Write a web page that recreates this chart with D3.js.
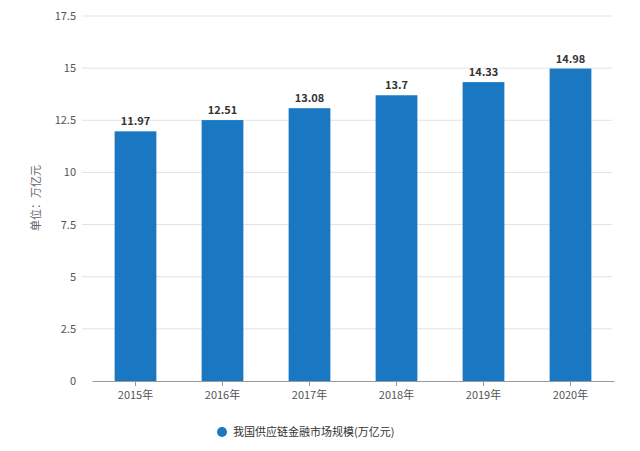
<!DOCTYPE html>
<html><head><meta charset="utf-8">
<script src="https://cdn.jsdelivr.net/npm/d3@7"></script>
<style>body{margin:0;background:#fff}text{font-family:"Noto Sans CJK SC","Open Sans",sans-serif}</style>
</head><body>
<script>
var years = ['2015年', '2016年', '2017年', '2018年', '2019年', '2020年'];
var values = [11.97, 12.51, 13.08, 13.7, 14.33, 14.98];
var labels = ['11.97', '12.51', '13.08', '13.7', '14.33', '14.98'];
var yTicks = [0, 2.5, 5, 7.5, 10, 12.5, 15, 17.5];

var svg = d3.select('body').append('svg').attr('width', 640).attr('height', 451);

var x = d3.scaleBand().domain(years).range([92, 614]).paddingInner(0.52).paddingOuter(0.26);
var y = d3.scaleLinear().domain([0, 17.5]).range([381, 16]);

svg.append('g').selectAll('line').data(yTicks.slice(1)).enter().append('line')
  .attr('x1', 82).attr('x2', 612)
  .attr('y1', function(d) { return y(d); }).attr('y2', function(d) { return y(d); })
  .attr('stroke', '#e3e3e3');

svg.append('g').selectAll('text').data(yTicks).enter().append('text')
  .attr('x', 76).attr('y', function(d) { return y(d) + 4; })
  .attr('text-anchor', 'end').attr('font-size', 11).attr('fill', '#555')
  .text(function(d) { return d; });

svg.append('g').selectAll('rect').data(values).enter().append('rect')
  .attr('x', function(d, i) { return x(years[i]); })
  .attr('width', x.bandwidth())
  .attr('y', function(d) { return y(d); })
  .attr('height', function(d) { return y(0) - y(d); })
  .attr('fill', '#1a78c2');

svg.append('g').selectAll('text').data(values).enter().append('text')
  .attr('x', function(d, i) { return x(years[i]) + x.bandwidth() / 2; })
  .attr('y', function(d) { return y(d) - 6; })
  .attr('text-anchor', 'middle').attr('font-size', 11).attr('font-weight', 'bold').attr('fill', '#333')
  .text(function(d, i) { return labels[i]; });

var xaxis = svg.append('g').attr('transform', 'translate(0,381)')
  .call(d3.axisBottom(x).tickSize(5).tickSizeOuter(0));
xaxis.select('.domain').attr('stroke', '#999');
xaxis.selectAll('line').attr('stroke', '#999');
xaxis.selectAll('text').attr('font-size', 11).attr('fill', '#555').attr('dy', '0.9em')
  .style('font-family', '"Noto Sans CJK SC",sans-serif');

svg.append('text').attr('transform', 'translate(40,198) rotate(-90)')
  .attr('text-anchor', 'middle').attr('font-size', 11).attr('fill', '#666')
  .text('单位：万亿元');

svg.append('circle').attr('cx', 222).attr('cy', 432).attr('r', 5).attr('fill', '#1a78c2');
svg.append('text').attr('x', 233).attr('y', 436).attr('font-size', 11).attr('fill', '#333')
  .text('我国供应链金融市场规模(万亿元)');
</script>
</body></html>
